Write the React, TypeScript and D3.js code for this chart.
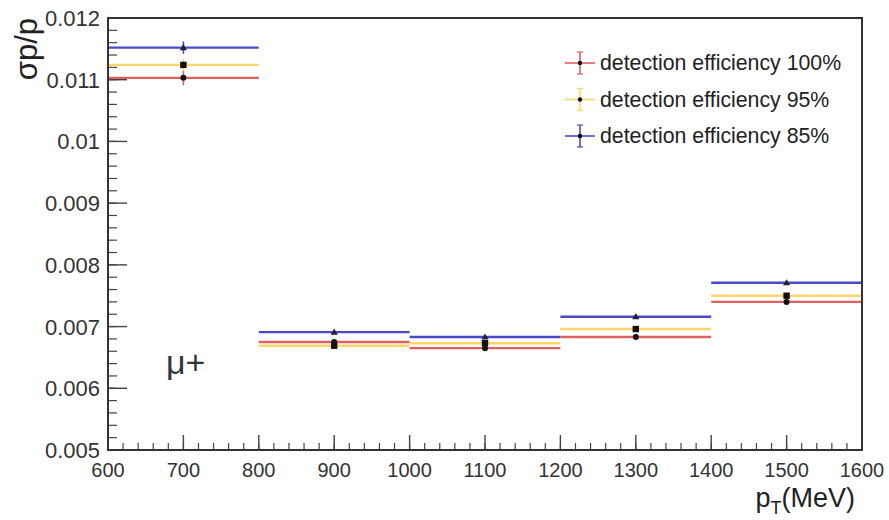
import React from "react";
import * as d3 from "d3";

const binEdges = [600, 800, 1000, 1200, 1400, 1600];
const binCenters = [700, 900, 1100, 1300, 1500];
const eff100 = [0.01103, 0.00675, 0.00665, 0.00683, 0.0074];
const eff95 = [0.01124, 0.00669, 0.00673, 0.00696, 0.0075];
const eff85 = [0.01152, 0.00691, 0.00683, 0.00716, 0.00771];
const err100 = [0.00012, 0.00004, 0.00004, 0.00004, 0.00004];
const err95 = [0.0001, 0.00004, 0.00004, 0.00004, 0.00004];
const err85 = [0.0001, 0.00003, 0.00003, 0.00003, 0.00003];
const seriesNames = ["detection efficiency 100%", "detection efficiency 95%", "detection efficiency 85%"];
const seriesColors = ["#e06060", "#ffd46a", "#4a4ac8"];
const seriesMarkers = ["circle", "square", "triangle"];
const yTickValues = [0.005, 0.006, 0.007, 0.008, 0.009, 0.01, 0.011, 0.012];
const xTickValues = [600, 700, 800, 900, 1000, 1100, 1200, 1300, 1400, 1500, 1600];

const W = 889, H = 520;
const L = 108, R = 862, T = 18, B = 450;
const FONT = "'Liberation Sans', Arial, Helvetica, sans-serif";

function Marker({ type, cx, cy }: { type: string; cx: number; cy: number }) {
  if (type === "circle") return <circle cx={cx} cy={cy} r={3} fill="#111" />;
  if (type === "square") return <rect x={cx - 3.2} y={cy - 3.2} width={6.4} height={6.4} fill="#111" />;
  const s = 3.6;
  return <path d={`M${cx},${cy - s} L${cx + s},${cy + s * 0.7} L${cx - s},${cy + s * 0.7} Z`} fill="#223" />;
}

export default function App() {
  const x = d3.scaleLinear().domain([600, 1600]).range([L, R]);
  const y = d3.scaleLinear().domain([0.005, 0.012]).range([B, T]);
  const yMinor = d3.range(0.005, 0.01201, 0.0002);
  const xMinor = d3.range(600, 1601, 20);
  const series = [
    { vals: eff100, errs: err100 },
    { vals: eff95, errs: err95 },
    { vals: eff85, errs: err85 },
  ];
  const fmtY = (v: number) => (v === 0.01 ? "0.01" : d3.format(".3f")(v));

  return (
    <svg width={W} height={H} style={{ position: "absolute", left: 0, top: 0, background: "#fff" }} fontFamily={FONT}>
      <rect x={0} y={0} width={W} height={H} fill="#fff" />
      {/* y ticks */}
      {yMinor.map((v, i) => (
        <line key={"ym" + i} x1={L} x2={L + 9} y1={y(v)} y2={y(v)} stroke="#444" strokeWidth={1.2} />
      ))}
      {yTickValues.map((v) => (
        <g key={"y" + v}>
          <line x1={L} x2={L + 19} y1={y(v)} y2={y(v)} stroke="#444" strokeWidth={1.4} />
          <text x={100} y={y(v) + 8} textAnchor="end" fontSize={22} fill="#333">{fmtY(v)}</text>
        </g>
      ))}
      {/* x ticks */}
      {xMinor.map((v, i) => (
        <line key={"xm" + i} x1={x(v)} x2={x(v)} y1={B} y2={B - 7} stroke="#444" strokeWidth={1.2} />
      ))}
      {xTickValues.map((v) => (
        <g key={"x" + v}>
          <line x1={x(v)} x2={x(v)} y1={B} y2={B - 15} stroke="#444" strokeWidth={1.4} />
          <text x={x(v)} y={477} textAnchor="middle" fontSize={20} fill="#333">{v}</text>
        </g>
      ))}
      {/* series */}
      {series.map((s, si) => (
        <g key={"s" + si}>
          {s.vals.map((v, i) => (
            <g key={i}>
              <line x1={x(binEdges[i])} x2={x(binEdges[i + 1])} y1={y(v)} y2={y(v)} stroke={seriesColors[si]} strokeWidth={2.4} />
              <line x1={x(binCenters[i])} x2={x(binCenters[i])} y1={y(v - s.errs[i])} y2={y(v + s.errs[i])} stroke={seriesColors[si]} strokeWidth={1.6} />
            </g>
          ))}
        </g>
      ))}
      {series.map((s, si) => (
        <g key={"m" + si}>
          {s.vals.map((v, i) => (
            <Marker key={i} type={seriesMarkers[si]} cx={x(binCenters[i])} cy={y(v)} />
          ))}
        </g>
      ))}
      {/* frame */}
      <rect x={L} y={T} width={R - L} height={B - T} fill="none" stroke="#333" strokeWidth={2} />
      {/* legend */}
      {seriesNames.map((n, i) => {
        const ly = 63 + i * 36.5;
        return (
          <g key={"lg" + i}>
            <line x1={565} x2={595} y1={ly} y2={ly} stroke={seriesColors[i]} strokeWidth={1.6} />
            <line x1={580} x2={580} y1={ly - 11} y2={ly + 11} stroke={seriesColors[i]} strokeWidth={1.6} />
            <line x1={577} x2={583} y1={ly - 11} y2={ly - 11} stroke={seriesColors[i]} strokeWidth={1.2} />
            <line x1={577} x2={583} y1={ly + 11} y2={ly + 11} stroke={seriesColors[i]} strokeWidth={1.2} />
            <circle cx={580} cy={ly} r={2.2} fill="#111" />
            <text x={600} y={ly + 7} fontSize={21.3} fill="#222">{n}</text>
          </g>
        );
      })}
      {/* axis titles */}
      <text transform={`translate(37,18) rotate(-90)`} textAnchor="end" fontSize={31} fill="#222">σp/p</text>
      <text x={855} y={507} textAnchor="end" fontSize={27} fill="#222">
        p<tspan fontSize={18} dy={7}>T</tspan><tspan dy={-7}>(MeV)</tspan>
      </text>
      <text x={166} y={374} fontSize={34} fill="#2f3838">μ+</text>
    </svg>
  );
}
